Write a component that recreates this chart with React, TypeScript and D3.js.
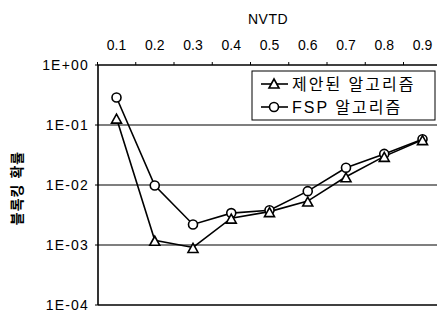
import React from 'react';
import * as d3 from 'd3';

// data
const categories = ['0.1', '0.2', '0.3', '0.4', '0.5', '0.6', '0.7', '0.8', '0.9'];
const proposed = [0.13, 0.0012, 0.00091, 0.0028, 0.0036, 0.0054, 0.0137, 0.03, 0.057];
const fsp = [0.287, 0.0098, 0.0022, 0.0034, 0.0038, 0.0079, 0.0194, 0.033, 0.058];
const yTicks = [1, 0.1, 0.01, 0.001, 0.0001];
const yTickLabels = ['1E+00', '1E-01', '1E-02', '1E-03', '1E-04'];
const seriesNames = ['제안된 알고리즘', 'FSP 알고리즘'];

const W = 437;
const H = 312;
const left = 98;
const right = 437;
const top = 65;
const bottom = 305;
const font = '"Liberation Sans", Arial, "Noto Sans CJK KR", sans-serif';

const Triangle = ({ x, y }: { x: number; y: number }) => (
  <path
    d={`M ${x} ${y - 5} L ${x + 5} ${y + 4} L ${x - 5} ${y + 4} Z`}
    fill="white"
    stroke="black"
    strokeWidth={1.6}
  />
);

const Circle = ({ x, y }: { x: number; y: number }) => (
  <circle cx={x} cy={y} r={4.5} fill="white" stroke="black" strokeWidth={1.6} />
);

export default function App() {
  const x = d3.scalePoint<string>().domain(categories).range([116.5, 422.5]);
  const y = d3.scaleLog().domain([1, 0.0001]).range([top, bottom]);

  const line = d3
    .line<number>()
    .x((_, i) => x(categories[i]) as number)
    .y(d => y(d));

  return (
    <svg
      width={W}
      height={H}
      style={{ position: 'absolute', left: 0, top: 0, background: 'white' }}
      fontFamily={font}
    >
      {/* title */}
      <text x={268} y={24} fontSize={14} textAnchor="middle" letterSpacing={0.5}>
        NVTD
      </text>

      {/* top axis labels */}
      {categories.map(c => (
        <text key={c} x={x(c)} y={50} fontSize={14} textAnchor="middle">
          {c}
        </text>
      ))}

      {/* gridlines */}
      {yTicks.map((t, i) => (
        <g key={t}>
          <line
            x1={left}
            x2={right}
            y1={y(t)}
            y2={y(t)}
            stroke="black"
            strokeWidth={i === 0 || i === yTicks.length - 1 ? 1.6 : 1.2}
          />
          <line x1={left - 3} x2={left} y1={y(t)} y2={y(t)} stroke="black" />
          <text
            x={left - 9}
            y={y(t) + 5}
            fontSize={14}
            textAnchor="end"
            letterSpacing={1.2}
          >
            {yTickLabels[i]}
          </text>
        </g>
      ))}

      {/* top ticks */}
      {categories.map(c => (
        <line
          key={'t' + c}
          x1={(x(c) as number) - 19}
          x2={(x(c) as number) - 19}
          y1={top - 3}
          y2={top}
          stroke="black"
        />
      ))}

      {/* left axis */}
      <line x1={left} x2={left} y1={top} y2={bottom} stroke="black" strokeWidth={1.6} />

      {/* y title */}
      <text
        transform={`translate(22, 188) rotate(-90)`}
        fontSize={14}
        fontWeight="bold"
        textAnchor="middle"
        letterSpacing={1}
      >
        블록킹 확률
      </text>

      {/* series */}
      <path d={line(fsp) || ''} fill="none" stroke="black" strokeWidth={1.6} />
      <path d={line(proposed) || ''} fill="none" stroke="black" strokeWidth={1.6} />
      {fsp.map((v, i) => (
        <Circle key={'c' + i} x={x(categories[i]) as number} y={y(v)} />
      ))}
      {proposed.map((v, i) => (
        <Triangle key={'p' + i} x={x(categories[i]) as number} y={y(v) + 1} />
      ))}

      {/* legend */}
      <rect x={252} y={71} width={183} height={49} fill="white" stroke="black" strokeWidth={1} />
      <line x1={261} x2={288} y1={84} y2={84} stroke="black" strokeWidth={1.6} />
      <Triangle x={274} y={84} />
      <text x={292} y={90} fontSize={16} letterSpacing={2}>
        {seriesNames[0]}
      </text>
      <line x1={261} x2={288} y1={107} y2={107} stroke="black" strokeWidth={1.6} />
      <Circle x={274} y={107} />
      <text x={292} y={113} fontSize={16} letterSpacing={2}>
        {seriesNames[1]}
      </text>
    </svg>
  );
}
